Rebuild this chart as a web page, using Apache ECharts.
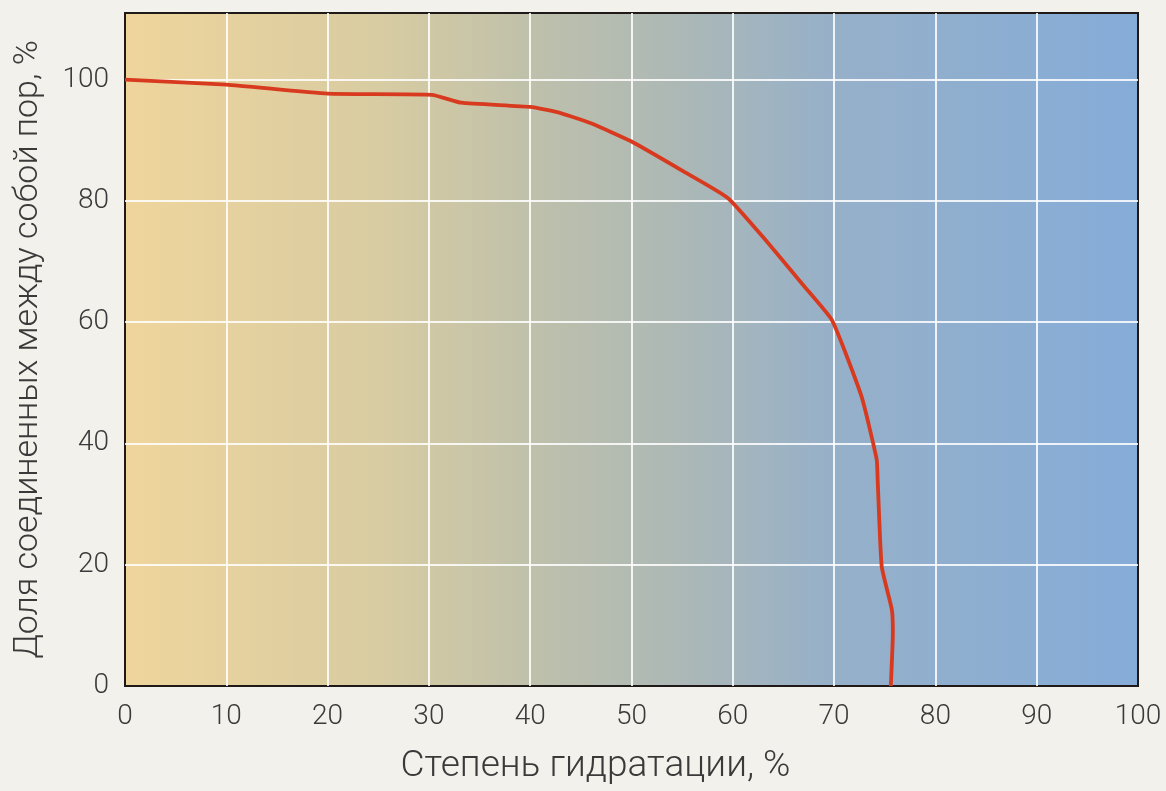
<!DOCTYPE html>
<html>
<head>
<meta charset="utf-8">
<script src="https://cdn.jsdelivr.net/npm/echarts@6/dist/echarts.min.js"></script>
<style>
html,body{margin:0;padding:0;background:#f3f1ec;}
#c{width:1166px;height:791px;}
</style>
</head>
<body>
<div id="c"></div>
<script>
// Data
const hydration = [0, 10, 20, 30.3, 33.2, 40, 43, 46, 50, 55, 59.5, 63, 67, 69.8, 72.7, 74.2, 74.3, 74.7, 75.7, 75.8, 75.6];
const connectedPores = [100, 99.2, 97.7, 97.5, 96.2, 95.5, 94.5, 92.8, 89.8, 85, 80.5, 74, 66, 60.3, 47.8, 37.4, 34, 19.7, 12.6, 8.8, 0];
const xTitle = 'Степень гидратации, %';
const yTitle = 'Доля соединенных между собой пор, %';

const points = hydration.map((x, i) => [x, connectedPores[i]]);
const font = 'Roboto, Liberation Sans, Arial, sans-serif';
const textColor = '#3a3a3a';

const chart = echarts.init(document.getElementById('c'));
chart.setOption({
  backgroundColor: '#f3f1ec',
  animation: false,
  grid: {
    left: 125, right: 28, top: 13, bottom: 105,
    show: true,
    borderColor: '#1f1a17',
    borderWidth: 2,
    backgroundColor: new echarts.graphic.LinearGradient(0, 0, 1, 0, [
      { offset: 0, color: '#efd59c' },
      { offset: 0.25, color: '#d8cca2' },
      { offset: 0.42, color: '#bcbfac' },
      { offset: 0.55, color: '#acb8b6' },
      { offset: 0.7, color: '#96b0c9' },
      { offset: 1, color: '#85acd8' }
    ])
  },
  xAxis: {
    type: 'value', min: 0, max: 100, interval: 10,
    name: xTitle, nameLocation: 'middle', nameGap: 62,
    nameTextStyle: { fontFamily: font, fontWeight: 300, fontSize: 37, color: textColor, padding: [0, 72, 0, 0] },
    axisLine: { show: false },
    axisTick: { show: false },
    axisLabel: { fontFamily: font, fontWeight: 300, fontSize: 28, color: textColor, margin: 17 },
    splitLine: { show: true, showMinLine: false, showMaxLine: false, lineStyle: { color: 'rgba(255,255,255,0.85)', width: 2 } }
  },
  yAxis: {
    type: 'value', min: 0, max: 111, interval: 20,
    name: yTitle, nameLocation: 'middle', nameGap: 80,
    nameTextStyle: { fontFamily: font, fontWeight: 300, fontSize: 34, color: textColor },
    axisLine: { show: false },
    axisTick: { show: false },
    axisLabel: {
      fontFamily: font, fontWeight: 300, fontSize: 28, color: textColor, margin: 16,
      showMaxLabel: false,
      formatter: v => (v % 20 === 0 ? String(v) : '')
    },
    splitLine: { show: true, showMinLine: false, showMaxLine: false, lineStyle: { color: 'rgba(255,255,255,0.85)', width: 2 } }
  },
  series: [{
    type: 'line',
    data: points,
    smooth: 0.15,
    symbol: 'none',
    lineStyle: { color: '#d83a1f', width: 3.8 }
  }]
});
</script>
</body>
</html>
